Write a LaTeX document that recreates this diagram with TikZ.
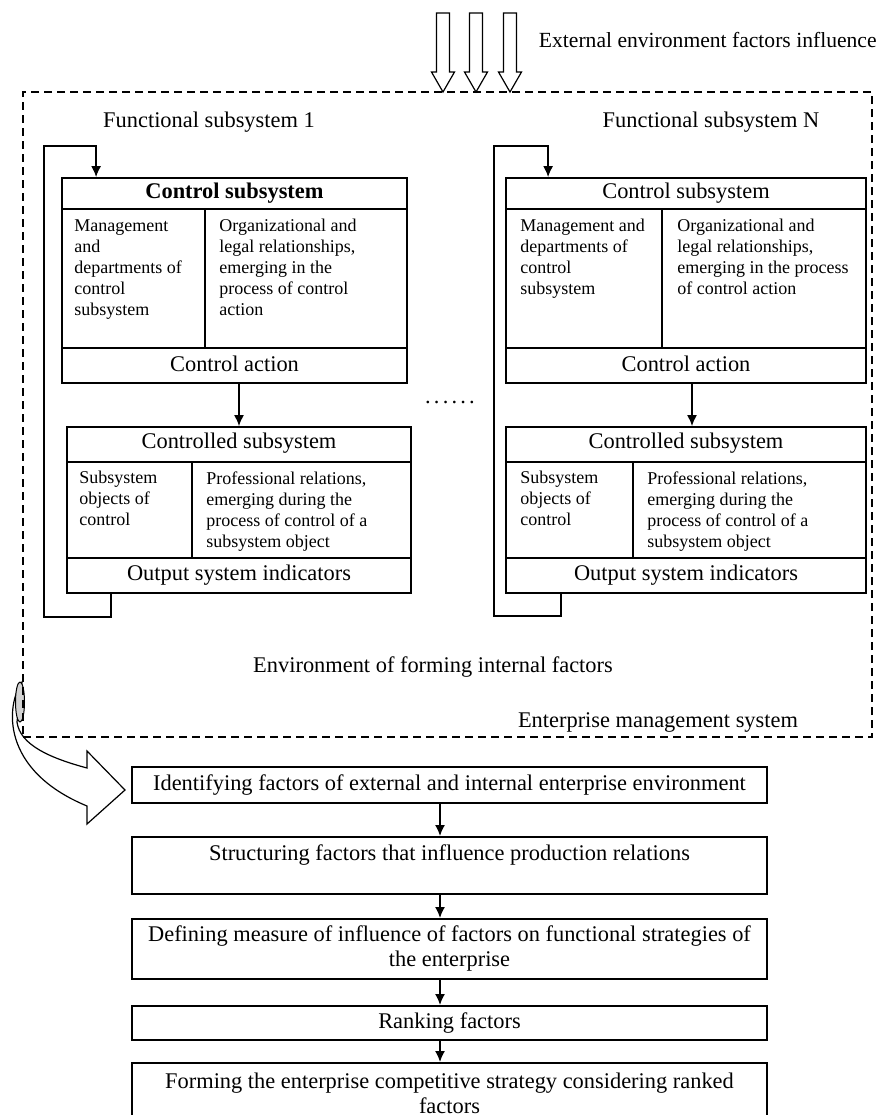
\documentclass[tikz,border=0pt]{standalone}
\usepackage{fontspec}
\setmainfont{Liberation Serif}
\usetikzlibrary{fit,arrows.meta}
\begin{document}
\begin{tikzpicture}[x=0.5pt,y=-0.5pt,
  box/.style={draw,line width=0.9pt,inner sep=0pt},
  big/.style={font=\fontsize{11.2}{12.5}\selectfont,inner sep=0pt},
  small/.style={font=\fontsize{9}{10.5}\selectfont,inner sep=0pt,anchor=north west,align=left},
  arr/.style={line width=0.8pt,-{Latex[length=5.5pt,width=5pt]}},
  hollow/.style={draw,fill=white,line width=0.6pt,line join=miter},
  frame/.style={draw,dashed,dash pattern=on 4pt off 2.5pt,line width=0.8pt,inner sep=0pt}]
\useasboundingbox (0,0) rectangle (880,1115);
\clip (0,0) rectangle (880,1115);

% external influence arrows
\foreach \x in {443,476,510}{
  \draw[hollow] (\x-6.5,13) -- (\x+6.5,13) -- (\x+6.5,72) -- (\x+11.5,72) -- (\x,92) -- (\x-11.5,72) -- (\x-6.5,72) -- cycle;
}
\node[inner sep=0pt,font=\fontsize{10.8}{12.5}\selectfont,anchor=east] (ext) at (877,40) {External environment factors influence};

% curved arrow out of the frame
\draw[hollow] (22,682) .. controls (6,705) and (0,770) .. (87,806) -- (87,824) -- (125,790) -- (87,751) -- (87,768)
   .. controls (50,758) and (20,745) .. (17,722) -- cycle;
\draw[line width=0.5pt,fill=gray!35] (20,702) ellipse [x radius=4.5, y radius=20];

% dashed frame
\node[frame,fit={(23,92) (872,737)}] (env) {};

\node[big] (fs1) at (209,122) {Functional subsystem 1};
\node[big] (fsN) at (711,122) {Functional subsystem N};

% ---- subsystem 1
\node[box,fit={(62,178) (407,383)}] (cs1) {};
\draw[line width=0.9pt] (62,209) -- (407,209) (62,348) -- (407,348) (205,209) -- (205,348);
\node[big] (cs1t) at (234.5,193) {\textbf{Control subsystem}};
\node[small] (cs1a) at (74,219) {Management\\and\\departments of\\control\\subsystem};
\node[small] (cs1b) at (219,219) {Organizational and\\legal relationships,\\emerging in the\\process of control\\action};
\node[big] (cs1c) at (234.5,364) {Control action};

\node[box,fit={(67,427) (411,593)}] (cd1) {};
\draw[line width=0.9pt] (67,462) -- (411,462) (67,558) -- (411,558) (192,462) -- (192,558);
\node[big] (cd1t) at (239,443) {Controlled subsystem};
\node[small] (cd1a) at (79,471) {Subsystem\\objects of\\control};
\node[small] (cd1b) at (206,471) {Professional relations,\\emerging during the\\process of control of a\\subsystem object};
\node[big] (cd1c) at (239,575) {Output system indicators};

\draw[arr] (cs1.south -| cd1.north) -- (cd1.north);
\draw[arr] ([xshift=22.5pt]cd1.south west) |- (44,617) -- (44,146) -| ([xshift=17.5pt]cs1.north west);

% ---- subsystem N
\node[box,fit={(506,178) (866,383)}] (csN) {};
\draw[line width=0.9pt] (506,209) -- (866,209) (506,348) -- (866,348) (662,209) -- (662,348);
\node[big] (csNt) at (686,193) {Control subsystem};
\node[small] (csNa) at (520,219) {Management and\\departments of\\control\\subsystem};
\node[small] (csNb) at (677,219) {Organizational and\\legal relationships,\\emerging in the process\\of control action};
\node[big] (csNc) at (686,364) {Control action};

\node[box,fit={(506,427) (866,593)}] (cdN) {};
\draw[line width=0.9pt] (506,462) -- (866,462) (506,558) -- (866,558) (633,462) -- (633,558);
\node[big] (cdNt) at (686,443) {Controlled subsystem};
\node[small] (cdNa) at (520,471) {Subsystem\\objects of\\control};
\node[small] (cdNb) at (647,471) {Professional relations,\\emerging during the\\process of control of a\\subsystem object};
\node[big] (cdNc) at (686,575) {Output system indicators};

\draw[arr] ([xshift=3pt]csN.south) -- ([xshift=3pt]cdN.north);
\draw[arr] ([xshift=28pt]cdN.south west) |- (494,616) -- (494,146) -| ([xshift=21.5pt]csN.north west);

\node[big] (dots) at (450,402) {.\hspace{1.6pt}.\hspace{1.6pt}.\hspace{1.6pt}.\hspace{1.6pt}.\hspace{1.6pt}.};

\node[big] (envint) at (433,667) {Environment of forming internal factors};
\node[big] (ems) at (658,722) {Enterprise management system};

% ---- bottom chain
\node[box,big,align=center,minimum width=317.5pt,minimum height=18pt,anchor=north] (b1) at (449.5,766)
  {Identifying factors of external and internal enterprise environment};
\node[box,big,align=center,minimum width=317.5pt,minimum height=28.5pt,anchor=north] (b2) at (449.5,836)
  {Structuring factors that influence production relations\\\mbox{}};
\node[box,big,align=center,minimum width=317.5pt,minimum height=30pt,anchor=north] (b3) at (449.5,918)
  {Defining measure of influence of factors on functional strategies of\\the enterprise};
\node[box,big,align=center,minimum width=317.5pt,minimum height=17pt,anchor=north] (b4) at (449.5,1005)
  {Ranking factors};
\node[box,big,align=center,minimum width=317.5pt,minimum height=30pt,anchor=north] (b5) at (449.5,1062)
  {Forming the enterprise competitive strategy considering ranked\\factors};

\foreach \a/\b in {b1/b2,b2/b3,b3/b4,b4/b5}{
  \draw[arr] ([xshift=-4.75pt]\a.south) -- ([xshift=-4.75pt]\b.north);
}
\end{tikzpicture}
\end{document}
